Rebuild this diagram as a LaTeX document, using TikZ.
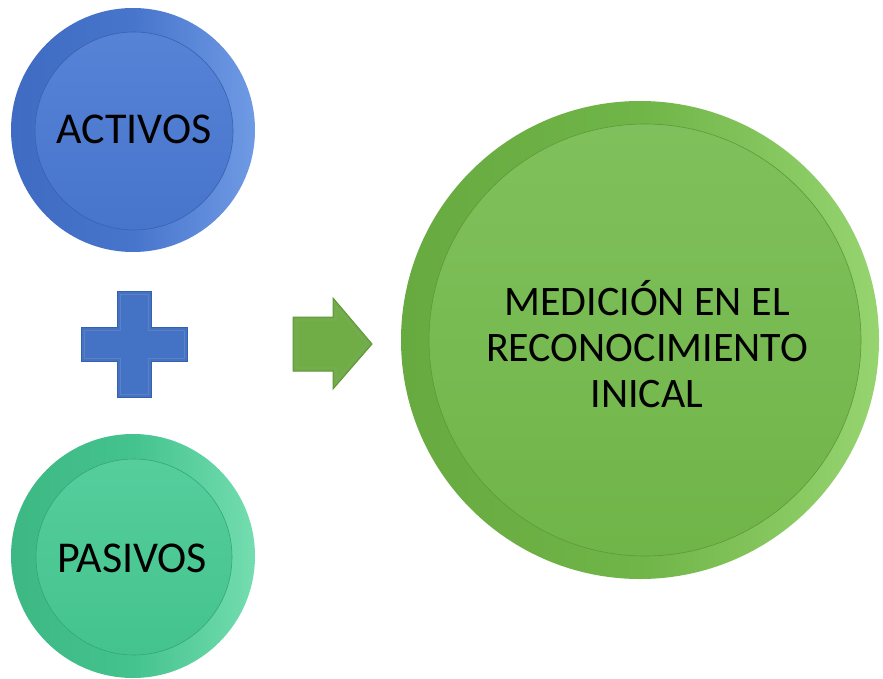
\documentclass[tikz,border=0pt]{standalone}
\usepackage{fontspec}
\setmainfont{Carlito}
\usetikzlibrary{shadings}
\definecolor{bluebase}{HTML}{4775CC}
\definecolor{bluelight}{HTML}{5683D6}
\definecolor{bluedark}{HTML}{3F6CC2}
\definecolor{bluehi}{HTML}{6F9AE4}
\definecolor{tealbase}{HTML}{44C38E}
\definecolor{teallight}{HTML}{55CE9C}
\definecolor{tealdark}{HTML}{3DB884}
\definecolor{tealhi}{HTML}{74DDB0}
\definecolor{greenbase}{HTML}{70B548}
\definecolor{greenlight}{HTML}{80C05C}
\definecolor{greendark}{HTML}{67AA40}
\definecolor{greenhi}{HTML}{96D470}
\definecolor{plusblue}{HTML}{4472C4}
\definecolor{plusedge}{HTML}{3560AE}
\definecolor{arrowgreen}{HTML}{70AD47}
\definecolor{arrowedge}{HTML}{5E9638}
\tikzset{
  ring/.style={circle, inner sep=0pt, draw=none},
  disc/.style={circle, inner sep=0pt, draw=#1, line width=0.6pt},
  lbl/.style={font=\fontsize{44}{52}\selectfont, text=black},
  biglbl/.style={font=\fontsize{42}{46}\selectfont, text=black, align=center},
}
\begin{document}
\begin{tikzpicture}[x=1pt,y=-1pt]
\useasboundingbox (0,0) rectangle (883,679);
% ACTIVOS
\node[ring, minimum size=244pt, left color=bluedark, right color=bluehi, middle color=bluebase] (actO) at (133,130) {};
\node[disc=bluedark!90!black, minimum size=198pt, top color=bluelight, bottom color=bluebase] (actI) at (134,131) {};
\node[lbl] (act) at (134,129) {ACTIVOS};
% PASIVOS
\node[ring, minimum size=244pt, left color=tealdark, right color=tealhi, middle color=tealbase] (pasO) at (133,556) {};
\node[disc=tealdark!90!black, minimum size=196pt, top color=teallight, bottom color=tealbase] (pasI) at (134,557) {};
\node[lbl] (pas) at (132,558) {PASIVOS};
% plus
\fill[plusblue, draw=plusedge, line width=1pt]
  (117,291) -- (151,291) -- (151,327) -- (187,327) -- (187,361) -- (151,361)
  -- (151,397) -- (117,397) -- (117,361) -- (81,361) -- (81,327) -- (117,327) -- cycle;
\draw[plusedge!80, line width=0.6pt]
  (120,294) -- (148,294) -- (148,330) -- (184,330) -- (184,358) -- (148,358)
  -- (148,394) -- (120,394) -- (120,358) -- (84,358) -- (84,330) -- (120,330) -- cycle;
% arrow
\fill[arrowgreen, draw=arrowedge, line width=1pt]
  (293,317) -- (333,317) -- (333,298) -- (372,344) -- (333,389) -- (333,371) -- (293,371) -- cycle;
\draw[arrowedge!80, line width=0.6pt]
  (296,320) -- (336,320) -- (336,306) -- (367,344) -- (336,381) -- (336,368) -- (296,368) -- cycle;
% big circle
\node[ring, minimum size=478pt, left color=greendark, right color=greenhi, middle color=greenbase] (medO) at (640,340) {};
\node[disc=greendark!90!black, minimum size=432pt, top color=greenlight, bottom color=greenbase] (medI) at (645,340) {};
\node[biglbl] (med) at (647,344) {MEDICIÓN EN EL\\RECONOCIMIENTO\\INICAL};
\end{tikzpicture}
\end{document}
